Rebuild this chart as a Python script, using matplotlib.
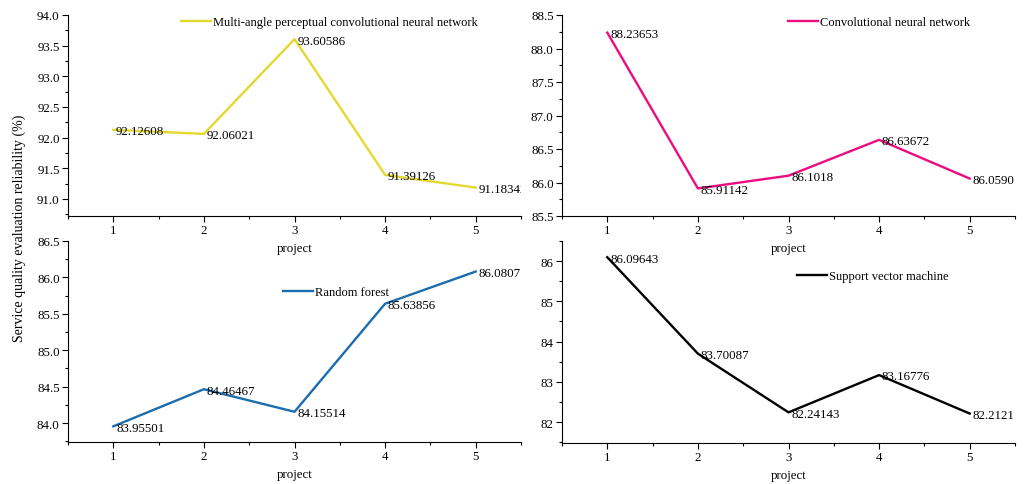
import matplotlib
matplotlib.use('Agg')
import matplotlib.pyplot as plt
from matplotlib.ticker import MultipleLocator

plt.rcParams['font.family'] = ['Liberation Serif', 'DejaVu Serif']
plt.rcParams['font.size'] = 9

projects = [1, 2, 3, 4, 5]

mapcnn = [92.12608, 92.06021, 93.60586, 91.39126, 91.18342]
mapcnn_labels = ['92.12608', '92.06021', '93.60586', '91.39126', '91.18342']
cnn = [88.23653, 85.91142, 86.1018, 86.63672, 86.0590]
cnn_labels = ['88.23653', '85.91142', '86.1018', '86.63672', '86.0590']
rf = [83.95501, 84.46467, 84.15514, 85.63856, 86.0807]
rf_labels = ['83.95501', '84.46467', '84.15514', '85.63856', '86.0807']
svm = [86.09643, 83.70087, 82.24143, 83.16776, 82.2121]
svm_labels = ['86.09643', '83.70087', '82.24143', '83.16776', '82.2121']

W, H = 1031, 485
fig = plt.figure(figsize=(W / 100, H / 100), dpi=100)


def px_axes(left, top, right, bottom):
    return fig.add_axes([left / W, (H - bottom) / H, (right - left) / W, (bottom - top) / H])


panels = [
    # (box, values, labels, name, color, ylim, major, minor, legend anchor, y format)
    ((68, 16, 521, 217), mapcnn, mapcnn_labels, 'Multi-angle perceptual convolutional neural network',
     '#E3D92E', (90.72, 94.0), 0.5, 0.25, (0.249, 0.965), '%.1f'),
    ((562, 16, 1015, 217), cnn, cnn_labels, 'Convolutional neural network',
     '#EC0C80', (85.5, 88.5), 0.5, 0.25, (0.499, 0.965), '%.1f'),
    ((68, 242, 521, 443), rf, rf_labels, 'Random forest',
     '#1B6DAE', (83.74, 86.5), 0.5, 0.25, (0.475, 0.746), '%.1f'),
    ((562, 242, 1015, 444), svm, svm_labels, 'Support vector machine',
     'black', (81.48, 86.5), 1.0, 0.5, (0.519, 0.827), '%d'),
]

for box, vals, labs, name, color, ylim, major, minor, anchor, fmt in panels:
    ax = px_axes(*box)
    ax.patch.set_alpha(0)
    ax.plot(projects, vals, color=color, linewidth=1.7, label=name)
    for x, y, t in zip(projects, vals, labs):
        ax.annotate(t, (x, y), xytext=(2, -1), textcoords='offset points',
                    ha='left', va='center', fontsize=9.3, clip_on=True)
    ax.set_xlim(0.5, 5.5)
    ax.set_ylim(*ylim)
    ax.xaxis.set_major_locator(MultipleLocator(1))
    ax.xaxis.set_minor_locator(MultipleLocator(0.5))
    ax.yaxis.set_major_locator(MultipleLocator(major))
    ax.yaxis.set_minor_locator(MultipleLocator(minor))
    ax.yaxis.set_major_formatter(plt.FormatStrFormatter(fmt))
    ax.tick_params(which='major', direction='out', length=4, width=0.8, pad=2, labelsize=9.3)
    ax.tick_params(which='minor', direction='out', length=2.5, width=0.8)
    ax.spines['top'].set_visible(False)
    ax.spines['right'].set_visible(False)
    ax.spines['left'].set_linewidth(0.8)
    ax.spines['bottom'].set_linewidth(0.8)
    ax.set_xlabel('project', labelpad=4, fontsize=9.3)
    ax.legend(loc='center left', bbox_to_anchor=anchor, frameon=False,
              borderpad=0, borderaxespad=0, handlelength=2.4, handletextpad=0.15)

fig.text(0.019, 0.53, 'Service quality evaluation reliability (%)', rotation=90,
         ha='center', va='center', fontsize=10)

fig.savefig('out.png', dpi=100)
